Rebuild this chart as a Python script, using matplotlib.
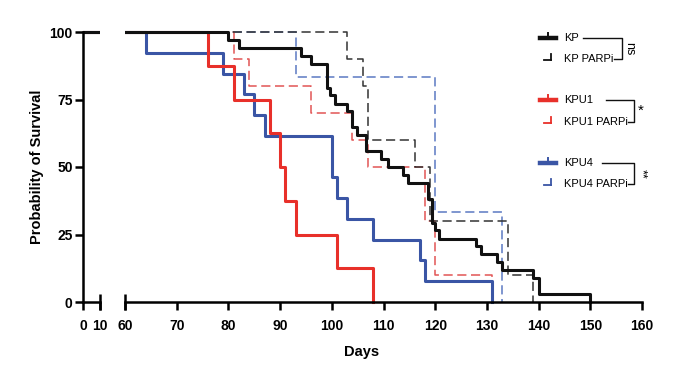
#Kaplan-Meier survival curves with a broken x axis
import numpy as np
import matplotlib.pyplot as plt
from matplotlib.lines import Line2D
from matplotlib.patches import Rectangle

plt.rcParams['font.family'] = ['Liberation Sans', 'DejaVu Sans']
plt.rcParams['font.weight'] = 'bold'

#Survival data (days, percent surviving)
kp_t = [0, 80, 82, 94, 96, 99, 99.7, 100.6, 103, 104, 104.8, 106.7, 109.6, 110.9, 113.8, 114.8,
        118.6, 119.3, 120, 120.7, 127.9, 128.8, 131.9, 132.9, 139, 140, 150]
kp_s = [100, 97.1, 94.1, 91.2, 88.2, 79.4, 76.5, 73.5, 70.6, 64.7, 61.8, 55.9, 52.9, 50.0, 47.1, 44.1,
        38.2, 29.4, 26.5, 23.5, 20.6, 17.6, 14.7, 11.8, 8.8, 2.9, 0]

kpp_t = [0, 103, 106, 107, 116, 119, 134, 139]
kpp_s = [100, 90, 80, 60, 50, 30, 10, 0]

kpu1_t = [0, 76, 81, 88, 90, 91, 93, 101, 108]
kpu1_s = [100, 87.5, 75, 62.5, 50, 37.5, 25, 12.5, 0]

kpu1p_t = [0, 81, 84, 96, 104, 107, 118, 120, 131]
kpu1p_s = [100, 90, 80, 70, 60, 50, 30, 10, 0]

kpu4_t = [0, 64, 79, 83, 85, 87, 100, 101, 103, 108, 117, 118, 131]
kpu4_s = [100, 92.3, 84.6, 76.9, 69.2, 61.5, 46.2, 38.5, 30.8, 23.1, 15.4, 7.7, 0]

kpu4p_t = [0, 93, 120, 133]
kpu4p_s = [100, 83.3, 33.3, 0]

names = ['KP', 'KP PARPi', 'KPU1', 'KPU1 PARPi', 'KPU4', 'KPU4 PARPi']
sig = ['ns', '*', '**']

black = '#111111'
red = '#e8302a'
blue = '#3a55a5'
dash = (0, (6, 3))

curves = [
    (kpu4p_t, kpu4p_s, '#5b79c2', dash, 1.1),
    (kpu1p_t, kpu1p_s, '#e25555', dash, 1.1),
    (kpp_t, kpp_s, '#333333', dash, 1.1),
    (kpu4_t, kpu4_s, blue, '-', 2.2),
    (kpu1_t, kpu1_s, red, '-', 2.2),
    (kp_t, kp_s, black, '-', 2.2),
]

W, H = 680, 390
fig = plt.figure(figsize=(W/100, H/100), dpi=100)

#two axes = broken x axis
ax1 = fig.add_axes([83/W, 1-302/H, 17/W, 270/H])
ax2 = fig.add_axes([125/W, 1-302/H, 517/W, 270/H])

for ax in (ax1, ax2):
    #clip in x only, let lines at 0 and 100 show fully
    clip = Rectangle((0, -0.05), 1, 1.1, transform=ax.transAxes, visible=False)
    ax.add_patch(clip)
    for t, s, c, ls, lw in curves:
        ln, = ax.step(t, s, where='post', color=c, linestyle=ls, lw=lw)
        ln.set_clip_path(clip)
    ax.set_ylim(0, 100)
    ax.spines['top'].set_visible(False)
    ax.spines['right'].set_visible(False)
    ax.spines['bottom'].set_linewidth(1.8)
    ax.spines['left'].set_linewidth(1.8)
    ax.tick_params(axis='both', which='major', length=5.5, width=1.8, labelsize=10)
    ax.tick_params(axis='x', which='major', pad=7)
    ax.tick_params(axis='y', which='major', pad=2)
    ax.tick_params(axis='x', which='minor', direction='inout', length=11, width=1.8)
    ax.xaxis.remove_overlapping_locs = False

ax1.set_xlim(0, 10)
ax1.set_xticks([0, 10])
ax1.set_xticks([10], minor=True)
ax1.set_yticks([0, 25, 50, 75, 100])

ax2.set_xlim(60, 160)
ax2.set_xticks(np.arange(60, 161, 10))
ax2.set_xticks([60], minor=True)
ax2.spines['left'].set_visible(False)
ax2.set_yticks([])

ax1.set_ylabel('Probability of Survival', fontsize=10.5, fontweight='bold', labelpad=4)
fig.text(362/W, 1-352/H, 'Days', ha='center', va='center', fontsize=10.5, fontweight='bold')

#legend drawn by hand in figure pixels
def fx(px):
    return px/W
def fy(py):
    return 1-py/H

leg_y = [38, 59, 100, 122, 163, 184]
leg_c = [black, black, red, red, blue, blue]
for i, (name, y, c) in enumerate(zip(names, leg_y, leg_c)):
    if i % 2 == 0:
        fig.add_artist(Line2D([fx(540), fx(556)], [fy(y), fy(y)], color=c, lw=3.2, transform=fig.transFigure))
        fig.add_artist(Line2D([fx(548), fx(548)], [fy(y), fy(y-5)], color=c, lw=1.4, transform=fig.transFigure))
    else:
        fig.add_artist(Line2D([fx(544), fx(551)], [fy(y+1), fy(y+1)], color=c, lw=1.3, transform=fig.transFigure))
        fig.add_artist(Line2D([fx(551), fx(551)], [fy(y+1), fy(y-5)], color=c, lw=1.3, transform=fig.transFigure))
    fig.text(fx(564), fy(y), name, ha='left', va='center', fontsize=8, fontweight='normal')

#significance brackets
br = [(583, 614, 622, 38, 59), (606, 628, 634, 100, 122), (602, 628, 634, 163, 184)]
for (x0, x1, xr, ya, yb), lab in zip(br, sig):
    fig.add_artist(Line2D([fx(x0), fx(xr), fx(xr), fx(x1)], [fy(ya), fy(ya), fy(yb), fy(yb)],
                          color=black, lw=1.0, transform=fig.transFigure))
    rot = 0 if lab == '*' else 270
    fs = 11 if lab == '*' else 9
    fig.text(fx(xr+7), fy((ya+yb)/2), lab, ha='center', va='center', fontsize=fs,
             fontweight='normal', rotation=rot)

plt.savefig('out.png', dpi=100)
